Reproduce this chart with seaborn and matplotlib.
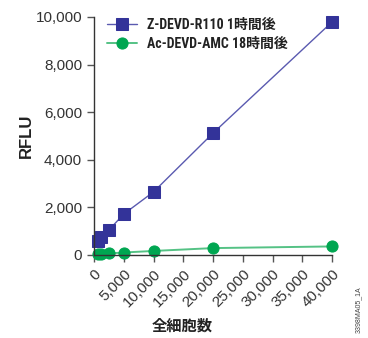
import matplotlib
matplotlib.use("Agg")
import matplotlib.pyplot as plt
from matplotlib import font_manager
from matplotlib.ticker import FuncFormatter, MultipleLocator
import seaborn as sns
import pandas as pd

# Cell numbers per well and relative fluorescence for each substrate
cells = [625, 1250, 2500, 5000, 10000, 20000, 40000]
r110_rflu = [590, 760, 1050, 1720, 2650, 5120, 9790]
amc_rflu = [30, 45, 65, 105, 170, 290, 360]

label_r110 = "Z-DEVD-R110 1時間後"
label_amc = "Ac-DEVD-AMC 18時間後"
x_title = "全細胞数"
y_title = "RFLU"
figure_code = "3398MA05_1A"

sns.set_theme(style="ticks")
plt.rcParams["font.family"] = ["Liberation Sans", "Noto Sans CJK JP", "DejaVu Sans"]

# Prefer a condensed face for the legend if one is installed
installed = {f.name for f in font_manager.fontManager.ttflist}
legend_fonts = [f for f in ("Liberation Sans Narrow", "Roboto Condensed",
                            "Open Sans Condensed") if f in installed]
legend_fonts += ["Noto Sans CJK JP"]

df_r110 = pd.DataFrame({"cells": cells, "rflu": r110_rflu})
df_amc = pd.DataFrame({"cells": cells, "rflu": amc_rflu})

fig = plt.figure(figsize=(3.68, 3.38), dpi=100)
ax = fig.add_axes([94 / 368, 1 - 255 / 338, (332 - 94) / 368, (255 - 17) / 338])

sns.lineplot(data=df_r110, x="cells", y="rflu", ax=ax, color="#5a5ab0", lw=1.0,
             marker="s", markersize=8, markerfacecolor="#333399",
             markeredgecolor="#333399", clip_on=False, label=label_r110)
sns.lineplot(data=df_amc, x="cells", y="rflu", ax=ax, color="#55c285", lw=1.4,
             marker="o", markersize=8, markerfacecolor="#00a651",
             markeredgecolor="#00a651", clip_on=False, label=label_amc)

ax.set_xlim(0, 40000)
ax.set_ylim(0, 10000)
ax.xaxis.set_major_locator(MultipleLocator(5000))
ax.yaxis.set_major_locator(MultipleLocator(2000))
fmt = FuncFormatter(lambda v, p: f"{int(v):,}")
ax.xaxis.set_major_formatter(fmt)
ax.yaxis.set_major_formatter(fmt)

for side in ("top", "right"):
    ax.spines[side].set_visible(False)
for side in ("left", "bottom"):
    ax.spines[side].set_color("#333333")
    ax.spines[side].set_linewidth(1.0)

ax.tick_params(axis="both", colors="#555555", labelcolor="#333333",
               labelsize=11, length=5, width=1.0)
plt.setp(ax.get_xticklabels(), rotation=45, ha="right", rotation_mode="anchor")

ax.set_xlabel(x_title, fontsize=11, fontweight="bold", color="#222222",
              family=["Noto Sans CJK JP"], va="center")
ax.xaxis.set_label_coords((182 - 94) / 238, -(326 - 255) / 238)
ax.set_ylabel(y_title, fontsize=12, fontweight="bold", color="#222222", labelpad=1)

leg = ax.legend(loc="upper left", bbox_to_anchor=(0.0, 1.05), frameon=False,
                handlelength=2.2, handletextpad=0.7, labelspacing=0.35,
                prop={"family": legend_fonts, "weight": "bold", "size": 10})
for t in leg.get_texts():
    t.set_color("#222222")

fig.text(358 / 368, 1 - 310 / 338, figure_code, rotation=90, fontsize=5,
         color="#444444", ha="center", va="center")

fig.savefig("out.png", dpi=100)
